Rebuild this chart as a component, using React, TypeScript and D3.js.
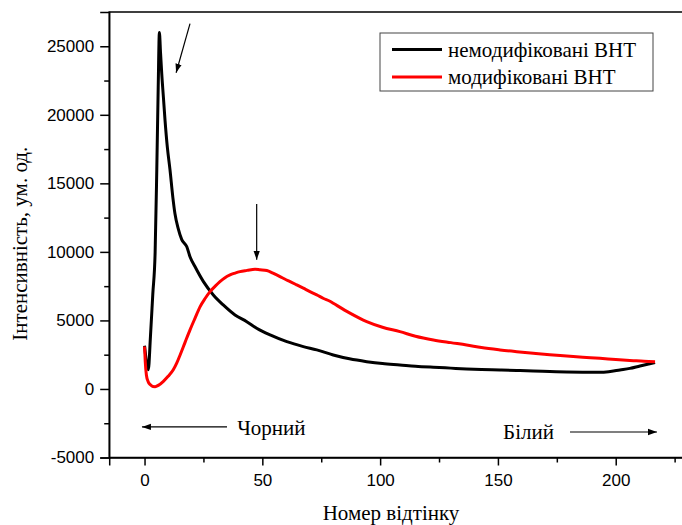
import { useEffect, useRef } from 'react';
import * as d3 from 'd3';

// shade number (x) and intensity for the unmodified CNT sample
const blackX = [0, 0.8, 1.6, 2.5, 3.5, 4.5, 5.2, 5.8, 6.3, 6.8, 7.3, 8, 8.7, 9.7, 10.8, 12, 12.9, 14.3, 15.8, 17.9, 19.3, 21.4, 25, 29.2, 33.4, 38.4, 43.4, 47.6, 53.3, 60.4, 67.4, 73.1, 80.1, 87, 94.3, 101, 108.4, 115, 122.6, 130, 136.7, 143, 150.9, 158, 165, 172, 179.2, 186, 193.3, 197, 201.8, 206, 210.3, 214, 216.7];
const blackY = [3150, 2000, 1400, 3800, 6900, 10000, 16000, 22000, 26000, 24500, 23000, 21300, 19600, 17600, 16000, 14000, 12800, 11700, 10900, 10390, 9650, 8930, 7830, 6860, 6130, 5400, 4910, 4430, 3940, 3450, 3090, 2850, 2482, 2200, 1993, 1850, 1752, 1660, 1584, 1520, 1460, 1420, 1387, 1350, 1314, 1280, 1241, 1225, 1218, 1260, 1387, 1500, 1679, 1820, 1920];

// modified CNT sample
const redX = [0, 0.3, 0.8, 1.5, 2.5, 3.5, 4.5, 6, 8, 10, 12.2, 13.7, 15.1, 17.2, 19.3, 21.4, 23.6, 25.7, 27.8, 30, 32, 34, 36.3, 38.4, 40.5, 43.5, 46.9, 49, 51.9, 54.5, 57.5, 59.5, 61.8, 64.5, 67.4, 70, 73.1, 76, 78.7, 80.1, 87, 94.3, 101, 108.4, 115, 122.6, 130, 136.7, 143, 150.9, 158, 165, 172, 179.2, 186, 193.3, 200, 207.5, 212, 216.7];
const redY = [3100, 2000, 1000, 550, 300, 180, 170, 280, 560, 920, 1400, 1900, 2480, 3400, 4310, 5150, 6010, 6600, 7100, 7500, 7830, 8100, 8320, 8450, 8560, 8650, 8740, 8700, 8640, 8450, 8200, 8020, 7830, 7600, 7350, 7120, 6860, 6600, 6400, 6255, 5550, 4912, 4500, 4182, 3850, 3577, 3380, 3212, 3020, 2847, 2720, 2606, 2500, 2409, 2320, 2241, 2150, 2066, 2020, 1993];

const seriesNames = ['немодифіковані ВНТ', 'модифіковані ВНТ'];
const yTicks = [-5000, 0, 5000, 10000, 15000, 20000, 25000];
const xTicks = [0, 50, 100, 150, 200];

const App = () => {
  const svgRef = useRef<SVGSVGElement>(null);

  useEffect(() => {
    const width = 682;
    const height = 525;
    const svg = d3.select(svgRef.current).attr('width', width).attr('height', height);
    svg.selectAll('*').remove();

    const x = d3.scaleLinear().domain([-15, 230]).range([109.2, 686.4]);
    const y = d3.scaleLinear().domain([-5000, 27500]).range([457.5, 12]);
    const sans = 'Liberation Sans, Arial, sans-serif';
    const serif = 'Liberation Serif, Times New Roman, serif';

    // frame (top edge; right edge lies outside the window)
    svg.append('rect')
      .attr('x', x.range()[0]).attr('y', y.range()[1])
      .attr('width', x.range()[1] - x.range()[0])
      .attr('height', y.range()[0] - y.range()[1])
      .attr('fill', 'none').attr('stroke', '#000').attr('stroke-width', 1.5);

    // minor ticks
    const yMinor = d3.range(-2500, 27500, 5000);
    const xMinor = d3.range(25, 230, 50);
    svg.append('g').attr('transform', `translate(${x.range()[0]},0)`)
      .call(d3.axisLeft(y).tickValues(yMinor).tickSize(5).tickFormat(() => ''))
      .call((g) => g.select('.domain').remove())
      .selectAll('line').attr('stroke-width', 1.5);
    svg.append('g').attr('transform', `translate(0,${y.range()[0]})`)
      .call(d3.axisBottom(x).tickValues(xMinor).tickSize(5).tickFormat(() => ''))
      .call((g) => g.select('.domain').remove())
      .selectAll('line').attr('stroke-width', 1.5);

    const yAxis = svg.append('g').attr('transform', `translate(${x.range()[0]},0)`)
      .call(d3.axisLeft(y).tickValues(yTicks).tickSize(9).tickPadding(6).tickFormat((d) => String(d)));
    const xAxis = svg.append('g').attr('transform', `translate(0,${y.range()[0]})`)
      .call(d3.axisBottom(x).tickValues(xTicks).tickSize(8).tickPadding(8).tickFormat((d) => String(d)));
    [yAxis, xAxis].forEach((g) => {
      g.select('.domain').attr('stroke-width', 1.5);
      g.selectAll('line').attr('stroke-width', 1.5);
      g.selectAll('text').attr('font-family', sans).attr('font-size', 17).attr('fill', '#000');
    });

    // axis titles
    svg.append('text')
      .attr('transform', `translate(27,${(y.range()[0] + y.range()[1]) / 2 + 9}) rotate(-90)`)
      .attr('text-anchor', 'middle').attr('font-family', serif).attr('font-size', 21)
      .text('Інтенсивність, ум. од.');
    svg.append('text')
      .attr('x', 391).attr('y', 520)
      .attr('text-anchor', 'middle').attr('font-family', serif).attr('font-size', 21)
      .text('Номер відтінку');

    // curves
    const line = d3.line<[number, number]>()
      .x((d) => x(d[0])).y((d) => y(d[1]))
      .curve(d3.curveMonotoneX);
    const curves = [
      { pts: blackX.map((v, i) => [v, blackY[i]] as [number, number]), color: '#000' },
      { pts: redX.map((v, i) => [v, redY[i]] as [number, number]), color: '#ff0000' },
    ];
    svg.selectAll('path.curve').data(curves).enter().append('path')
      .attr('class', 'curve')
      .attr('d', (d) => line(d.pts))
      .attr('fill', 'none')
      .attr('stroke', (d) => d.color)
      .attr('stroke-width', 3)
      .attr('stroke-linejoin', 'round');

    // arrows
    const defs = svg.append('defs');
    defs.append('marker')
      .attr('id', 'head').attr('viewBox', '0 0 10 10')
      .attr('refX', 10).attr('refY', 5)
      .attr('markerWidth', 9).attr('markerHeight', 9)
      .attr('markerUnits', 'userSpaceOnUse')
      .attr('orient', 'auto')
      .append('path').attr('d', 'M0,1.5 L10,5 L0,8.5 Z').attr('fill', '#000');

    const arrows = [
      [19.3, 26650, 13.4, 23070],
      [47.6, 13500, 47.6, 9420],
      [35, -2770, -1.1, -2770],
      [180.6, -3140, 217.5, -3140],
    ];
    svg.selectAll('line.arrow').data(arrows).enter().append('line')
      .attr('class', 'arrow')
      .attr('x1', (d) => x(d[0])).attr('y1', (d) => y(d[1]))
      .attr('x2', (d) => x(d[2])).attr('y2', (d) => y(d[3]))
      .attr('stroke', '#000').attr('stroke-width', 1.2)
      .attr('marker-end', 'url(#head)');

    svg.append('text').attr('x', x(39.3)).attr('y', y(-3360))
      .attr('font-family', serif).attr('font-size', 21).text('Чорний');
    svg.append('text').attr('x', x(152.2)).attr('y', y(-3650))
      .attr('font-family', serif).attr('font-size', 21).text('Білий');

    // legend
    const legend = svg.append('g').attr('transform', 'translate(380,33)');
    legend.append('rect').attr('width', 273).attr('height', 58)
      .attr('fill', '#fff').attr('stroke', '#444').attr('stroke-width', 1);
    const colors = ['#000', '#ff0000'];
    seriesNames.forEach((name, i) => {
      const yy = 16.5 + i * 27.5;
      legend.append('line').attr('x1', 12).attr('x2', 62).attr('y1', yy).attr('y2', yy)
        .attr('stroke', colors[i]).attr('stroke-width', 3);
      legend.append('text').attr('x', 68).attr('y', yy + 7)
        .attr('font-family', serif).attr('font-size', 21).text(name);
    });
  }, []);

  return (
    <svg ref={svgRef} style={{ position: 'absolute', left: 0, top: 0, background: '#fff' }}></svg>
  );
};

export default App;
